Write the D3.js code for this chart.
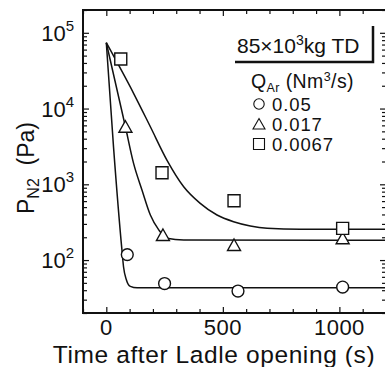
<!DOCTYPE html>
<html>
<head>
<meta charset="utf-8">
<script src="https://cdn.jsdelivr.net/npm/d3@7"></script>
<style>
  body { margin: 0; background: #fff; }
  text { font-family: "Liberation Sans", Arial, Helvetica, sans-serif; fill: #111; }
</style>
</head>
<body>
<div id="chart"></div>
<script>
// measured points (time s, pressure Pa)
const circleT = [90, 250, 565, 1014];
const circleP = [118, 49, 39, 44];
const triangleT = [82, 243, 548, 1014];
const triangleP = [5750, 214, 158, 194];
const squareT = [62, 239, 548, 1014];
const squareP = [45000, 1420, 607, 262];

// fitted curves
const curveCircleT = [0, 31, 67, 74, 86, 103, 132, 200, 1200];
const curveCircleP = [74000, 3100, 136, 81, 55, 45, 43, 43, 43];
const curveTriangleT = [0, 82, 117, 153, 189, 225, 260, 332, 1200];
const curveTriangleP = [74000, 5750, 1890, 842, 393, 250, 194, 184, 183];
const curveSquareT = [0, 117, 189, 260, 332, 403, 475, 546, 618, 690, 833, 1200];
const curveSquareP = [74000, 15900, 5750, 2090, 930, 561, 393, 321, 282, 263, 255, 255];

const xLabels = [0, 500, 1000];
const yLabelExp = [2, 3, 4, 5];
const legendLabels = ['0.05', '0.017', '0.0067'];

const width = 385, height = 367;
const margin = { top: 10, right: -1, bottom: 54, left: 83 };

const svg = d3.select('#chart').append('svg')
  .attr('width', width)
  .attr('height', height);

const x = d3.scaleLinear()
  .domain([-100, 1200])
  .range([margin.left, width - margin.right]);
const y = d3.scaleLog()
  .domain([20, 200000])
  .range([height - margin.bottom, margin.top]);

const x0 = x.range()[0], x1 = x.range()[1];
const y0 = y.range()[0], y1 = y.range()[1];

// ticks (all pointing inward)
const yTicks = y.ticks();
const isMajor = v => Math.abs(Math.log10(v) - Math.round(Math.log10(v))) < 1e-9;
const xTicks = x.ticks(13);

const tickStyle = g => g.call(g => g.select('.domain').remove())
  .call(g => g.selectAll('line').attr('stroke', '#111').attr('stroke-width', 1.2));

svg.append('g').attr('transform', `translate(${x0},0)`)
  .call(d3.axisLeft(y).tickValues(yTicks.filter(v => !isMajor(v))).tickSize(-4).tickFormat(''))
  .call(tickStyle);
svg.append('g').attr('transform', `translate(${x0},0)`)
  .call(d3.axisLeft(y).tickValues(yTicks.filter(isMajor)).tickSize(-6).tickFormat(''))
  .call(tickStyle);
svg.append('g').attr('transform', `translate(${x1},0)`)
  .call(d3.axisRight(y).tickValues(yTicks.filter(v => !isMajor(v))).tickSize(-4).tickFormat(''))
  .call(tickStyle);
svg.append('g').attr('transform', `translate(${x1},0)`)
  .call(d3.axisRight(y).tickValues(yTicks.filter(isMajor)).tickSize(-6).tickFormat(''))
  .call(tickStyle);

svg.append('g').attr('transform', `translate(0,${y0})`)
  .call(d3.axisBottom(x).tickValues(xTicks).tickSize(-4).tickFormat(''))
  .call(tickStyle)
  .call(g => g.selectAll('.tick').filter(d => d % 500 === 0).select('line').attr('y2', -6));
svg.append('g').attr('transform', `translate(0,${y1})`)
  .call(d3.axisTop(x).tickValues(xTicks).tickSize(-4).tickFormat(''))
  .call(tickStyle)
  .call(g => g.selectAll('.tick').filter(d => d % 500 === 0).select('line').attr('y2', 6));

// frame
svg.append('rect')
  .attr('x', x0).attr('y', y1)
  .attr('width', x1 - x0).attr('height', y0 - y1)
  .attr('fill', 'none').attr('stroke', '#111').attr('stroke-width', 2);

// tick labels
svg.append('g').selectAll('text')
  .data(xLabels)
  .join('text')
  .attr('x', d => x(d))
  .attr('y', y0 + 22)
  .attr('text-anchor', 'middle')
  .attr('font-size', 22)
  .attr('letter-spacing', 0.5)
  .text(d => d);

const yl = svg.append('g').selectAll('text')
  .data(yLabelExp)
  .join('text')
  .attr('x', x0 - 9)
  .attr('y', d => y(Math.pow(10, d)) + 8)
  .attr('text-anchor', 'end')
  .attr('font-size', 22);
yl.append('tspan').text('10');
yl.append('tspan').attr('font-size', 15).attr('dy', -10).text(d => d);

// axis titles
svg.append('text')
  .attr('x', 214)
  .attr('y', 362.5)
  .attr('text-anchor', 'middle')
  .attr('font-size', 24.5)
  .attr('letter-spacing', 0.6)
  .text('Time after Ladle opening (s)');

const yt = svg.append('text')
  .attr('transform', 'translate(34,168) rotate(-90)')
  .attr('text-anchor', 'middle')
  .attr('font-size', 23);
yt.append('tspan').text('P');
yt.append('tspan').attr('font-size', 16).attr('dy', 5).text('N2');
yt.append('tspan').attr('dy', -5).text('\u00a0\u00a0(Pa)');

// curves
const clip = svg.append('clipPath').attr('id', 'clip')
  .append('rect').attr('x', x0).attr('y', y1).attr('width', x1 - x0).attr('height', y0 - y1);

const line = d3.line()
  .x(d => x(d[0]))
  .y(d => y(d[1]))
  .curve(d3.curveMonotoneX);

const curves = [
  d3.zip(curveCircleT, curveCircleP),
  d3.zip(curveTriangleT, curveTriangleP),
  d3.zip(curveSquareT, curveSquareP)
];
svg.append('g').attr('clip-path', 'url(#clip)')
  .selectAll('path')
  .data(curves)
  .join('path')
  .attr('d', line)
  .attr('fill', 'none')
  .attr('stroke', '#111')
  .attr('stroke-width', 1.5);

// markers
const shapes = {
  circle: d3.symbol(d3.symbolCircle, 110)(),
  square: 'M-6,-6H6V6H-6Z',
  triangle: 'M0,-6L6.5,5.5L-6.5,5.5Z'
};
const markerSets = [
  { shape: 'circle', pts: d3.zip(circleT, circleP) },
  { shape: 'triangle', pts: d3.zip(triangleT, triangleP) },
  { shape: 'square', pts: d3.zip(squareT, squareP) }
];
markerSets.forEach(s => {
  svg.append('g').selectAll('path')
    .data(s.pts)
    .join('path')
    .attr('d', shapes[s.shape])
    .attr('transform', d => `translate(${x(d[0])},${y(d[1])})`)
    .attr('fill', '#fff')
    .attr('stroke', '#111')
    .attr('stroke-width', 1.4);
});

// legend
const lg = svg.append('g');
lg.append('rect').attr('x', 232).attr('y', 24).attr('width', 140).attr('height', 37).attr('fill', '#fff');
const t1 = lg.append('text').attr('x', 237).attr('y', 53).attr('font-size', 21);
t1.append('tspan').text('85\u00d710');
t1.append('tspan').attr('font-size', 14).attr('dy', -8).text('3');
t1.append('tspan').attr('dy', 8).text('kg TD');
lg.append('path')
  .attr('d', 'M235,62H373V26')
  .attr('fill', 'none').attr('stroke', '#111').attr('stroke-width', 2.5);

const t2 = lg.append('text').attr('x', 251).attr('y', 88).attr('font-size', 19.5).attr('letter-spacing', 0.4);
t2.append('tspan').text('Q');
t2.append('tspan').attr('font-size', 12.5).attr('dy', 4).text('Ar');
t2.append('tspan').attr('dy', -4).text(' (Nm');
t2.append('tspan').attr('font-size', 12.5).attr('dy', -7).text('3');
t2.append('tspan').attr('dy', 7).text('/s)');

legendLabels.forEach((lab, i) => {
  const cy = 104 + i * 20;
  lg.append('path')
    .attr('d', i === 0 ? d3.symbol(d3.symbolCircle, 85)() : i === 1 ? 'M0,-5.5L6,5L-6,5Z' : 'M-5.5,-5.5H5.5V5.5H-5.5Z')
    .attr('transform', `translate(259,${cy})`)
    .attr('fill', '#fff').attr('stroke', '#111').attr('stroke-width', 1.1);
  lg.append('text').attr('x', 272).attr('y', cy + 7).attr('font-size', 18.5)
    .attr('letter-spacing', 0.9).text(lab);
});
</script>
</body>
</html>
